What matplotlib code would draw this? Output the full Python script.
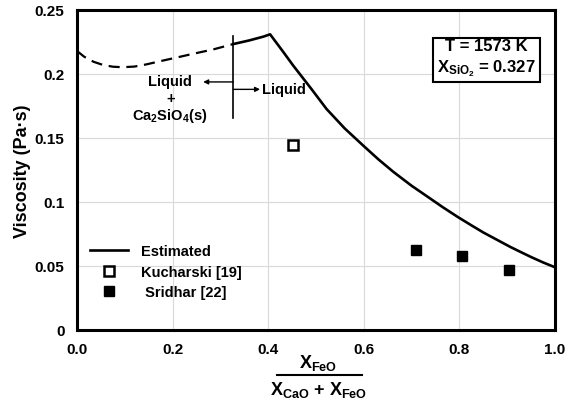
import matplotlib
matplotlib.use('Agg')
import matplotlib.pyplot as plt
from matplotlib.lines import Line2D
import numpy as np

plt.rcParams['font.family'] = ['Liberation Sans', 'DejaVu Sans']
plt.rcParams['font.weight'] = 'bold'
plt.rcParams['mathtext.fontset'] = 'custom'
plt.rcParams['mathtext.rm'] = 'Liberation Sans:bold'
plt.rcParams['mathtext.it'] = 'Liberation Sans:bold'
plt.rcParams['mathtext.bf'] = 'Liberation Sans:bold'

# estimated curve, two-phase region (dashed)
x_two_phase = [0.0, 0.015, 0.035, 0.055, 0.075, 0.095, 0.12, 0.145, 0.174, 0.21, 0.243, 0.285, 0.327]
y_two_phase = [0.218, 0.2135, 0.2095, 0.207, 0.2057, 0.2053, 0.2058, 0.2075, 0.2100, 0.213, 0.2158, 0.2192, 0.2234]
# estimated curve, liquid region (solid)
x_liquid = [0.327, 0.36, 0.39, 0.404, 0.43, 0.4525, 0.49, 0.522, 0.56, 0.599, 0.63, 0.662,
            0.70, 0.732, 0.765, 0.797, 0.825, 0.85, 0.88, 0.906, 0.93, 0.95, 0.975, 1.0]
y_liquid = [0.2234, 0.2262, 0.2292, 0.231, 0.218, 0.2065, 0.1885, 0.1727, 0.1575, 0.144, 0.1335, 0.1235,
            0.1127, 0.1045, 0.0960, 0.0882, 0.0818, 0.0762, 0.0702, 0.0650, 0.0606, 0.0570, 0.0528, 0.049]

# measurements
x_kucharski = [0.451]
y_kucharski = [0.1445]
x_sridhar = [0.709, 0.806, 0.904]
y_sridhar = [0.0625, 0.0575, 0.047]

x_ticks = [0.0, 0.2, 0.4, 0.6, 0.8, 1.0]
y_ticks = [0, 0.05, 0.1, 0.15, 0.2, 0.25]
y_tick_labels = ['0', '0.05', '0.1', '0.15', '0.2', '0.25']

boundary_x = 0.327

fig = plt.figure(figsize=(5.76, 4.02), dpi=100)
ax = fig.add_axes([77 / 576, 1 - 331 / 402, (555 - 77) / 576, (331 - 11) / 402])

ax.plot(x_two_phase, y_two_phase, color='black', lw=1.6, ls=(0, (5, 3)))
ax.plot(x_liquid, y_liquid, color='black', lw=1.9, solid_joinstyle='round')
ax.plot(x_kucharski, y_kucharski, 's', ms=7, mfc='white', mec='black', mew=1.8)
ax.plot(x_sridhar, y_sridhar, 's', ms=7, color='black')

# phase boundary and labels
ax.plot([boundary_x, boundary_x], [0.166, 0.2297], color='black', lw=1.2)
arrow = dict(arrowstyle='-|>', color='black', lw=1.0, mutation_scale=7, shrinkA=0, shrinkB=0)
ax.annotate('', xy=(0.264, 0.1938), xytext=(boundary_x, 0.1938), arrowprops=arrow)
ax.annotate('', xy=(0.383, 0.188), xytext=(boundary_x, 0.188), arrowprops=arrow)
ax.text(0.386, 0.188, 'Liquid', fontsize=10.5, fontweight='bold', ha='left', va='center')
ax.text(0.195, 0.1945, 'Liquid', fontsize=10.5, fontweight='bold', ha='center', va='center')
ax.text(0.195, 0.1815, '+', fontsize=10.5, fontweight='bold', ha='center', va='center')
ax.text(0.195, 0.168, r'Ca$_2$SiO$_4$(s)', fontsize=10.5, fontweight='bold', ha='center', va='center')

# conditions box
ax.text(0.856, 0.2125, 'T = 1573 K\n' + r'X$_{\mathrm{SiO_2}}$' + ' = 0.327', fontsize=12,
        fontweight='bold', ha='center', va='center', linespacing=1.3,
        bbox=dict(boxstyle='square,pad=0.25', fc='white', ec='black', lw=1.5))

ax.set_xlim(0, 1)
ax.set_ylim(0, 0.25)
ax.set_xticks(x_ticks)
ax.set_xticklabels([f'{v:.1f}' for v in x_ticks])
ax.set_yticks(y_ticks)
ax.set_yticklabels(y_tick_labels)
ax.tick_params(length=0, labelsize=11, pad=9)
for lab in ax.get_xticklabels() + ax.get_yticklabels():
    lab.set_fontweight('bold')
ax.grid(True, color='#d9d9d9', lw=0.8)
ax.set_axisbelow(True)
for sp in ax.spines.values():
    sp.set_linewidth(2.2)

ax.set_ylabel('Viscosity (Pa·s)', fontsize=13, fontweight='bold', labelpad=3)

# x label as fraction
fig.text(318 / 576, 1 - 363 / 402, r'X$_{\mathrm{FeO}}$', fontsize=13, fontweight='bold',
         ha='center', va='center')
fig.add_artist(Line2D([277 / 576, 362 / 576], [1 - 376 / 402, 1 - 376 / 402],
                      color='black', lw=1.5, transform=fig.transFigure))
fig.text(319 / 576, 1 - 390 / 402, r'X$_{\mathrm{CaO}}$ + X$_{\mathrm{FeO}}$', fontsize=13,
         fontweight='bold', ha='center', va='center')

handles = [
    Line2D([], [], color='black', lw=1.9),
    Line2D([], [], ls='none', marker='s', ms=7, mfc='white', mec='black', mew=1.8),
    Line2D([], [], ls='none', marker='s', ms=7, color='black'),
]
ax.legend(handles, ['Estimated', 'Kucharski [19]', ' Sridhar [22]'], loc='lower left',
          bbox_to_anchor=(0.0, 0.055), frameon=False, handlelength=2.6,
          handletextpad=0.9, labelspacing=0.45, prop={'weight': 'bold', 'size': 10.5})

fig.savefig('out.png', dpi=100)
